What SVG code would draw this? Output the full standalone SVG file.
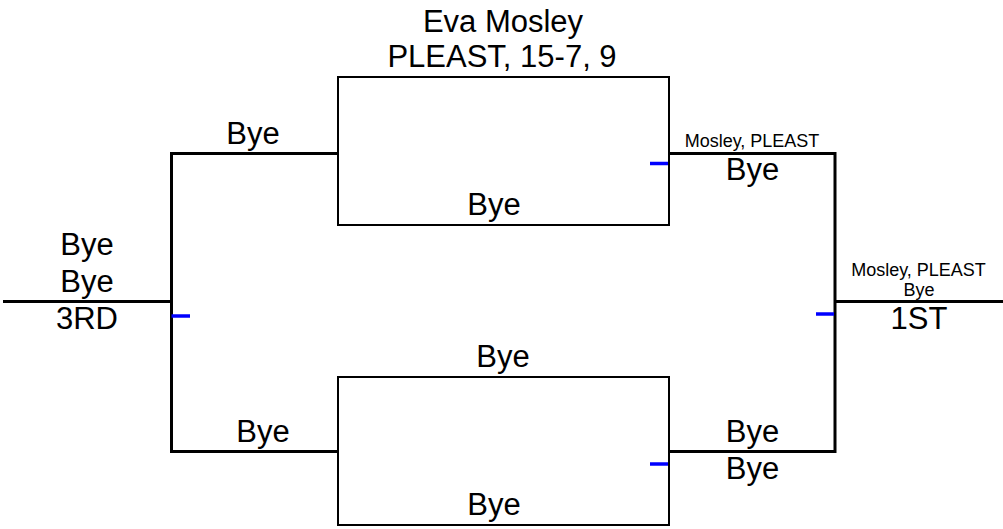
<svg xmlns="http://www.w3.org/2000/svg" width="1003" height="529" viewBox="0 0 1003 529">
<style>
text{font-family:"Liberation Sans",Arial,sans-serif;fill:#000;text-anchor:middle}
.b{font-size:31px}
.s{font-size:18px}
.thick{fill:none;stroke:#000;stroke-width:3}
.box{fill:none;stroke:#000;stroke-width:2}
.mark{stroke:#0000ff;stroke-width:3.5}
</style>
<rect width="1003" height="529" fill="#fff"/>
<g id="connectors">
<path class="thick" d="M3,301.5H171.5"/>
<path class="thick" d="M338,153.5H171.5V451.5H338"/>
<path class="thick" d="M669,153.5H835V451.5H669"/>
<path class="thick" d="M835,301.5H1003"/>
<line class="mark" x1="171.5" y1="316" x2="190" y2="316"/>
<line class="mark" x1="650" y1="163.5" x2="668" y2="163.5"/>
<line class="mark" x1="650" y1="464" x2="668" y2="464"/>
<line class="mark" x1="816" y1="314" x2="834" y2="314"/>
</g>
<g id="match-top">
<rect class="box" x="338" y="77" width="331" height="148"/>
<text class="b" x="503" y="32">Eva Mosley</text>
<text class="b" x="502" y="67">PLEAST, 15-7, 9</text>
<text class="b" x="494" y="215">Bye</text>
</g>
<g id="match-bottom">
<rect class="box" x="338" y="377" width="331" height="148"/>
<text class="b" x="503" y="367">Bye</text>
<text class="b" x="494" y="515">Bye</text>
</g>
<g id="left-top"><text class="b" x="253" y="144">Bye</text></g>
<g id="left-bottom"><text class="b" x="263" y="441.5">Bye</text></g>
<g id="third">
<text class="b" x="87" y="255">Bye</text>
<text class="b" x="87" y="291.5">Bye</text>
<text class="b" x="87" y="329">3RD</text>
</g>
<g id="right-top">
<text class="s" x="752" y="147">Mosley, PLEAST</text>
<text class="b" x="752.5" y="180">Bye</text>
</g>
<g id="right-bottom">
<text class="b" x="752.5" y="441.5">Bye</text>
<text class="b" x="752.5" y="479">Bye</text>
</g>
<g id="first">
<text class="s" x="918.5" y="275.5">Mosley, PLEAST</text>
<text class="s" x="919" y="296">Bye</text>
<text class="b" x="919" y="329">1ST</text>
</g>
</svg>
